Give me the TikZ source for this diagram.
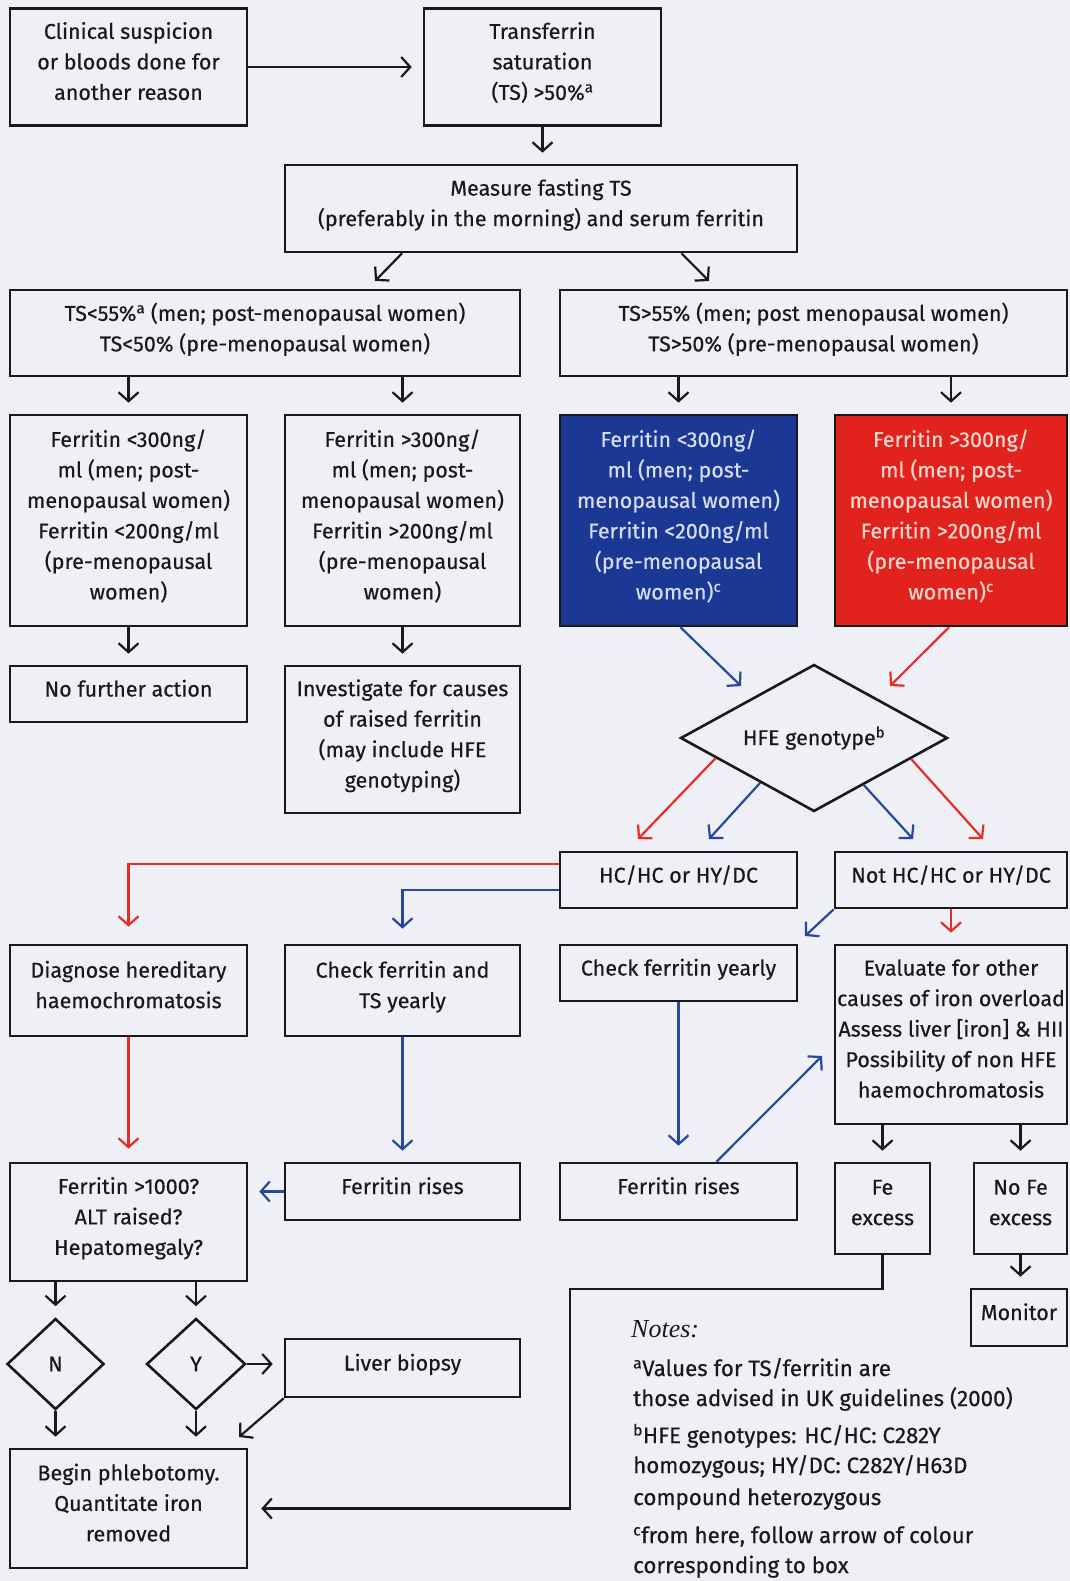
\documentclass[tikz,border=0pt]{standalone}
\usepackage{fontspec}
\setmainfont{Fira Sans}[FakeBold=0.4]
\newfontfamily\notesfont{Liberation Serif}
\usetikzlibrary{arrows.meta,shapes.geometric,calc}
\definecolor{bgc}{RGB}{238,240,245}
\definecolor{bluebox}{RGB}{27,56,148}
\definecolor{redbox}{RGB}{226,34,28}
\definecolor{bluetxt}{RGB}{214,220,242}
\definecolor{redtxt}{RGB}{250,216,208}
\definecolor{blueln}{RGB}{40,72,160}
\definecolor{redln}{RGB}{232,44,38}
\definecolor{ink}{RGB}{25,25,28}
\tikzset{
  base/.style={draw=ink, line width=2.6pt, align=center, inner sep=0pt, text=ink,
     font={\fontsize{21.5}{30.5}\selectfont}},
  bx/.style={base,
     execute at begin node={\rule{0pt}{17pt}},
     execute at end node={\rule[-12pt]{0pt}{0pt}}},
  dia/.style={base, diamond, shape aspect=2},
  ar/.style={line width=2.2pt, -{Straight Barb[length=9pt,width=20pt]}},
  gap/.style={shorten >=11pt},
  blk/.style={ar, draw=ink},
  blu/.style={ar, draw=blueln},
  rd/.style={ar, draw=redln},
  note/.style={anchor=base west, inner sep=0pt, text=ink, font={\fontsize{22.3}{30}\selectfont}}
}
\begin{document}
\begin{tikzpicture}[x=1pt,y=-1pt]
\fill[bgc] (0,0) rectangle (1070,1581);
\useasboundingbox (0,0) rectangle (1070,1581);

% row 1
\node[bx, minimum width=237, minimum height=117] (c1) at (128.5,67) {Clinical suspicion\\or bloods done for\\another reason};
\node[bx, minimum width=237, minimum height=117] (ts) at (542.5,67) {Transferrin\\saturation\\(TS) >50\%\textsuperscript{a}};
\node[bx, minimum width=512, minimum height=87] (ms) at (541,208.5) {Measure fasting TS\\(preferably in the morning) and serum ferritin};
\node[bx, minimum width=510, minimum height=86] (lo) at (265,333) {TS<55\%\textsuperscript{a} (men; post-menopausal women)\\TS<50\% (pre-menopausal women)};
\node[bx, minimum width=507, minimum height=86] (hi) at (813.5,333) {TS>55\% (men; post menopausal women)\\TS>50\% (pre-menopausal women)};

% ferritin row
\node[bx, minimum width=237, minimum height=211] (f1) at (128.5,520.5) {Ferritin <300ng/\\ml (men; post-\\menopausal women)\\Ferritin <200ng/ml\\(pre-menopausal\\women)};
\node[bx, minimum width=235, minimum height=211] (f2) at (402.5,520.5) {Ferritin >300ng/\\ml (men; post-\\menopausal women)\\Ferritin >200ng/ml\\(pre-menopausal\\women)};
\node[bx, fill=bluebox, text=bluetxt, minimum width=237, minimum height=211] (f3) at (678.5,520.5) {Ferritin <300ng/\\ml (men; post-\\menopausal women)\\Ferritin <200ng/ml\\(pre-menopausal\\women)\textsuperscript{c}};
\node[bx, fill=redbox, text=redtxt, minimum width=232, minimum height=211] (f4) at (951,520.5) {Ferritin >300ng/\\ml (men; post-\\menopausal women)\\Ferritin >200ng/ml\\(pre-menopausal\\women)\textsuperscript{c}};

\node[bx, minimum width=237, minimum height=56] (nfa) at (128.5,694) {No further action};
\node[bx, minimum width=235, minimum height=147] (inv) at (402.5,739.5) {Investigate for causes\\of raised ferritin\\(may include HFE\\genotyping)};
\node[dia, minimum width=267, minimum height=147] (hfe) at (814,738) {HFE genotype\textsuperscript{b}};

\node[bx, minimum width=237, minimum height=56] (hc) at (678.5,880) {HC/HC or HY/DC};
\node[bx, minimum width=232, minimum height=56] (nhc) at (951,880) {Not HC/HC or HY/DC};

\node[bx, minimum width=237, minimum height=91] (dg) at (128.5,990.5) {Diagnose hereditary\\haemochromatosis};
\node[bx, minimum width=235, minimum height=91] (ck1) at (402.5,990.5) {Check ferritin and\\TS yearly};
\node[bx, minimum width=237, minimum height=56] (ck2) at (678.5,973) {Check ferritin yearly};
\node[bx, minimum width=232, minimum height=179] (ev) at (951,1034.5) {Evaluate for other\\causes of iron overload\\Assess liver [iron] \& HII\\Possibility of non HFE\\haemochromatosis};

\node[bx, minimum width=237, minimum height=118] (fq) at (128.5,1222) {Ferritin >1000?\\ALT raised?\\Hepatomegaly?};
\node[bx, minimum width=235, minimum height=57] (fr1) at (402.5,1191.5) {Ferritin rises};
\node[bx, minimum width=237, minimum height=57] (fr2) at (678.5,1191.5) {Ferritin rises};
\node[bx, minimum width=95, minimum height=91] (fe) at (882.5,1208.5) {Fe\\excess};
\node[bx, minimum width=93, minimum height=91] (nofe) at (1020.5,1208.5) {No Fe\\excess};
\node[bx, minimum width=96, minimum height=57] (mon) at (1019,1317.5) {Monitor};

\node[dia, minimum width=97, minimum height=91] (dn) at (55.5,1364) {N};
\node[dia, minimum width=99, minimum height=91] (dy) at (196,1364) {Y};
\node[bx, minimum width=235, minimum height=58] (lb) at (402.5,1368) {Liver biopsy};
\node[bx, minimum width=237, minimum height=119] (bp) at (128.5,1508.5) {Begin phlebotomy.\\Quantitate iron\\removed};

% notes
\node[note, font={\notesfont\itshape\fontsize{26}{30}\selectfont}] (nt) at (631,1337) {Notes:};
\node[note] (n1) at (633,1376) {\textsuperscript{a}Values for TS/ferritin are};
\node[note] (n2) at (633,1406) {those advised in UK guidelines (2000)};
\node[note] (n3) at (633,1443) {\textsuperscript{b}HFE genotypes: HC/HC: C282Y};
\node[note] (n4) at (633,1473) {homozygous; HY/DC: C282Y/H63D};
\node[note] (n5) at (633,1505) {compound heterozygous};
\node[note] (n6) at (633,1543) {\textsuperscript{c}from here, follow arrow of colour};
\node[note] (n7) at (633,1573) {corresponding to box};

% free ends
\coordinate (loin) at (375,281);
\coordinate (hiin) at (709,281);
\coordinate (hfeb) at (741,686);
\coordinate (hfer) at (890,686);
\coordinate (hc1) at (638,839);
\coordinate (hc2) at (709,839);
\coordinate (nh1) at (913,839);
\coordinate (nh2) at (983,839);
\coordinate (ck2in) at (805,936);
\coordinate (evin) at (822,1056);
\coordinate (k1) at (570,1289);
\coordinate (k2) at (570,1508.5);
\coordinate (bpin) at (239,1437);

% connectors
\draw[blk,gap] (c1.east) -- (ts.west);
\draw[blk,gap] (ts.south) -- (ts.south |- ms.north);
\draw[blk] ($(ms.south west)!0.23!(ms.south east)$) -- (loin);
\draw[blk] ($(ms.south west)!0.773!(ms.south east)$) -- (hiin);
\draw[blk,gap] (f1.north |- lo.south) -- (f1.north);
\draw[blk,gap] (f2.north |- lo.south) -- (f2.north);
\draw[blk,gap] (f3.north |- hi.south) -- (f3.north);
\draw[blk,gap] (f4.north |- hi.south) -- (f4.north);
\draw[blk,gap] (f1.south) -- (nfa.north);
\draw[blk,gap] (f2.south) -- (inv.north);
\draw[blu] ($(f3.south)+(2,0)$) -- (hfeb);
\draw[rd] ($(f4.south)+(-2,0)$) -- (hfer);
\draw[rd] ($(hfe.west)!0.27!(hfe.south)$) -- (hc1);
\draw[blu] ($(hfe.west)!0.6!(hfe.south)$) -- (hc2);
\draw[blu] ($(hfe.south)!0.37!(hfe.east)$) -- (nh1);
\draw[rd] ($(hfe.south)!0.72!(hfe.east)$) -- (nh2);
\draw[rd, shorten >=17pt] ($(hc.west)+(0,-16)$) -| (dg.north);
\draw[blu, shorten >=15pt] ($(hc.west)+(0,10)$) -| (ck1.north);
\draw[blu] (nhc.south west) -- (ck2in);
\draw[rd,gap] (nhc.south) -- (ev.north);
\draw[rd, shorten >=13pt] (dg.south) -- (fq.north);
\draw[blu,gap] (ck1.south) -- (fr1.north);
\draw[blu, shorten >=16pt] (ck2.south) -- (fr2.north);
\draw[blu] ($(fr2.north)+(38,0)$) -- (evin);
\draw[blk,gap] (fe.north |- ev.south) -- (fe.north);
\draw[blk,gap] (nofe.north |- ev.south) -- (nofe.north);
\draw[blu,gap] (fr1.west) -- (fr1.west -| fq.east);
\draw[blk,gap] (nofe.south) -- (nofe.south |- mon.north);
\draw[blk, shorten >=13pt] (fe.south) |- (k1) -- (k2) -- (bp.east);
\draw[blk,gap] (dn.north |- fq.south) -- (dn.north);
\draw[blk,gap] (dy.north |- fq.south) -- (dy.north);
\draw[blk,gap] (dy.east) -- (dy.east -| lb.west);
\draw[blk] (lb.south west) -- (bpin);
\draw[blk,gap] (dn.south) -- (dn.south |- bp.north);
\draw[blk,gap] (dy.south) -- (dy.south |- bp.north);
\end{tikzpicture}
\end{document}
